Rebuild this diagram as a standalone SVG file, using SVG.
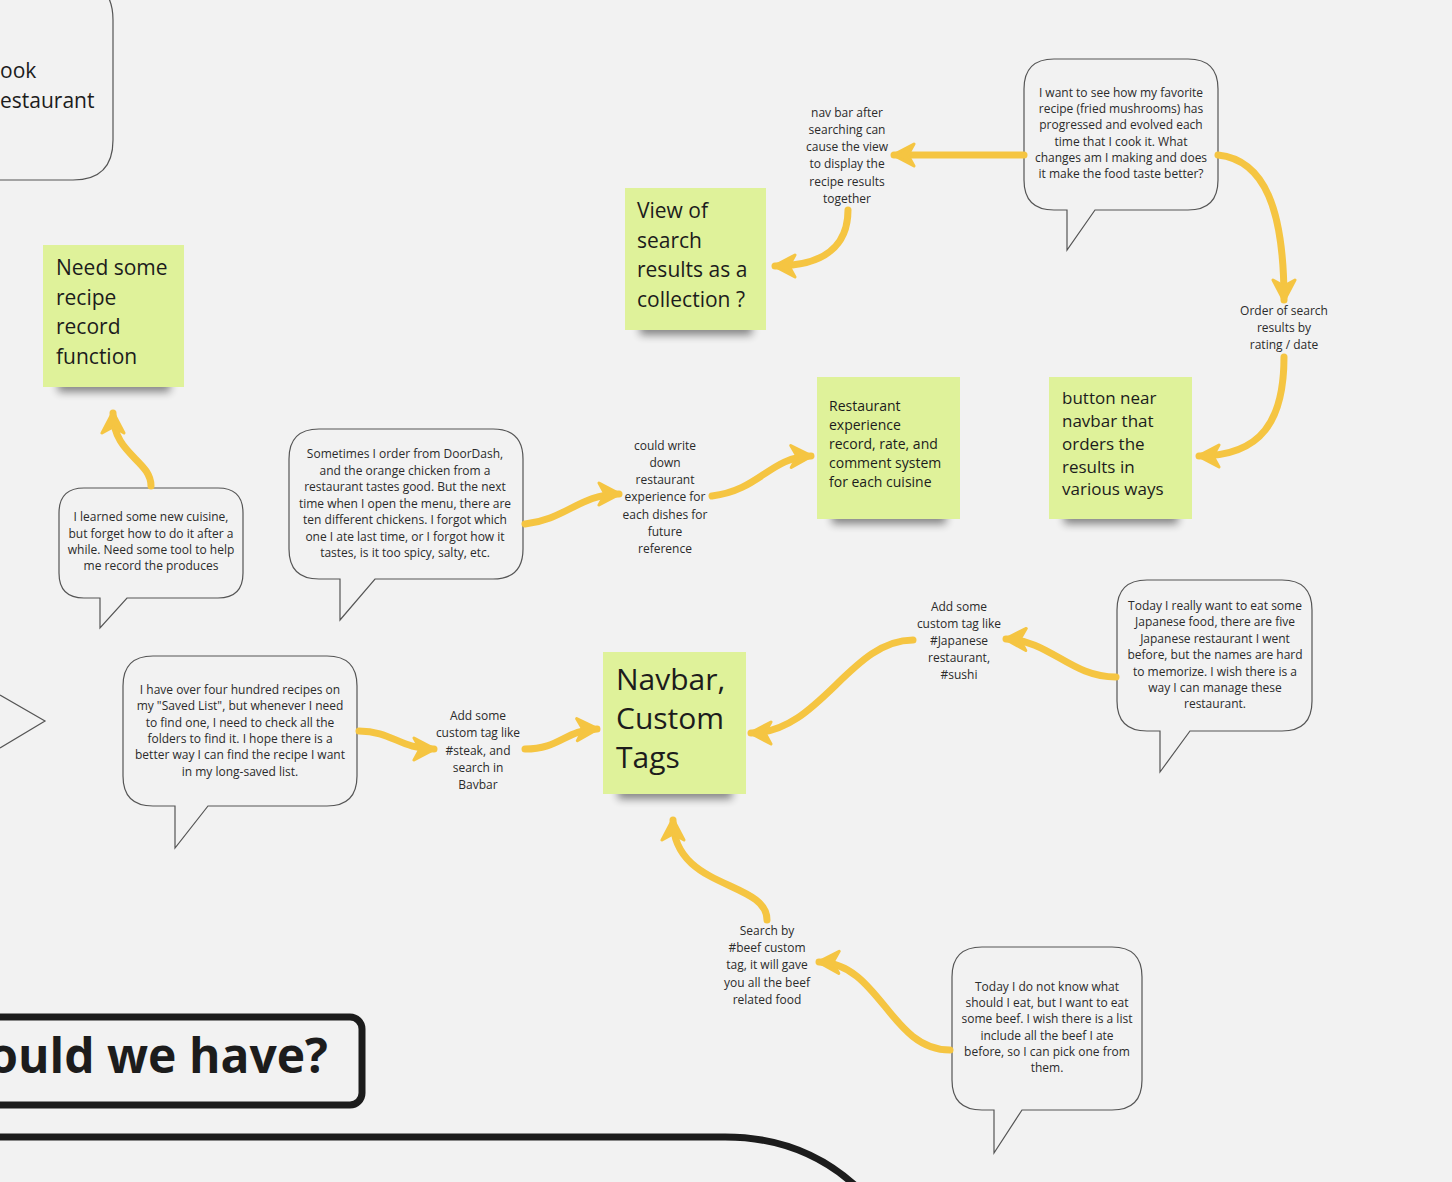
<svg xmlns="http://www.w3.org/2000/svg" width="1452" height="1182" viewBox="0 0 1452 1182">
<style>
.bubble{fill:#f2f2f2;stroke:#555;stroke-width:1.2}
.bt{font-family:"Open Sans","Liberation Sans",sans-serif;font-size:12px;fill:#2b2b2b;text-anchor:middle}
.lbl{font-family:"Open Sans","Liberation Sans",sans-serif;font-size:12px;fill:#2b2b2b;text-anchor:middle}
.sticky{fill:#dff29a}
.st{font-family:"Open Sans","Liberation Sans",sans-serif;fill:#1c1c1c}
.arr{fill:none;stroke:#f5c542;stroke-width:7;stroke-linecap:round;marker-end:url(#ah)}
.shadow{fill:#000;opacity:0.45;filter:url(#blur)}
</style>
<defs>
<marker id="ah" markerUnits="userSpaceOnUse" viewBox="0 0 26 26" markerWidth="26" markerHeight="26" refX="23" refY="13" orient="auto">
<path d="M24 13 L3 2 L9 13 L3 24 Z" fill="#f5c542" stroke="#f5c542" stroke-width="3" stroke-linejoin="round"/>
</marker>
<filter id="blur" x="-20%" y="-100%" width="140%" height="300%"><feGaussianBlur stdDeviation="4"/></filter>
</defs>
<rect width="1452" height="1182" fill="#f2f2f2"/>

<g id="partial-bubble-topleft">
<path d="M-10 -20 H73 Q113 -20 113 20 V140 Q113 180 73 180 H-10" fill="none" stroke="#555" stroke-width="1.2"/>
<text class="st" x="0" y="78" font-size="21">ook</text>
<text class="st" x="0" y="108" font-size="21">estaurant</text>
</g>
<g id="partial-shape-left">
<polyline points="0,695 45,721 0,748" fill="none" stroke="#555" stroke-width="1.2"/>
</g>

<g id="sticky-recipe-record">
<rect class="shadow" x="58" y="378" width="112" height="14"/>
<rect class="sticky" x="43" y="245" width="141" height="142"/>
<text class="st" font-size="21"><tspan x="56" y="275">Need some</tspan><tspan x="56" y="305">recipe</tspan><tspan x="56" y="334">record</tspan><tspan x="56" y="364">function</tspan></text>
</g>

<g id="sticky-collection">
<rect class="shadow" x="640" y="321" width="112" height="14"/>
<rect class="sticky" x="625" y="188" width="141" height="142"/>
<text class="st" font-size="21"><tspan x="637" y="218">View of</tspan><tspan x="637" y="248">search</tspan><tspan x="637" y="277">results as a</tspan><tspan x="637" y="307">collection ?</tspan></text>
</g>

<g id="sticky-restaurant">
<rect class="shadow" x="832" y="510" width="114" height="14"/>
<rect class="sticky" x="817" y="377" width="143" height="142"/>
<text class="st" font-size="14"><tspan x="829" y="411">Restaurant</tspan><tspan x="829" y="430">experience</tspan><tspan x="829" y="449">record, rate, and</tspan><tspan x="829" y="468">comment system</tspan><tspan x="829" y="487">for each cuisine</tspan></text>
</g>

<g id="sticky-button-navbar">
<rect class="shadow" x="1064" y="510" width="114" height="14"/>
<rect class="sticky" x="1049" y="377" width="143" height="142"/>
<text class="st" font-size="17"><tspan x="1062" y="404">button near</tspan><tspan x="1062" y="427">navbar that</tspan><tspan x="1062" y="450">orders the</tspan><tspan x="1062" y="473">results in</tspan><tspan x="1062" y="495">various ways</tspan></text>
</g>

<g id="sticky-navbar-tags">
<rect class="shadow" x="618" y="785" width="114" height="14"/>
<rect class="sticky" x="603" y="652" width="143" height="142"/>
<text class="st" font-size="30"><tspan x="616" y="690">Navbar,</tspan><tspan x="616" y="729">Custom</tspan><tspan x="616" y="768">Tags</tspan></text>
</g>

<g id="bubble-mushrooms">
<path class="bubble" d="M1054 59 H1188 Q1218 59 1218 89 V180 Q1218 210 1188 210 H1095 L1067 250 L1067 210 H1054 Q1024 210 1024 180 V89 Q1024 59 1054 59 Z"/>
<text class="bt"><tspan x="1121" y="97">I want to see how my favorite</tspan><tspan x="1121" y="113">recipe (fried mushrooms) has</tspan><tspan x="1121" y="129">progressed and evolved each</tspan><tspan x="1121" y="146">time that I cook it. What</tspan><tspan x="1121" y="162">changes am I making and does</tspan><tspan x="1121" y="178">it make the food taste better?</tspan></text>
</g>

<g id="bubble-doordash">
<path class="bubble" d="M319 429 H493 Q523 429 523 459 V549 Q523 579 493 579 H375 L340 620 L340 579 H319 Q289 579 289 549 V459 Q289 429 319 429 Z"/>
<text class="bt"><tspan x="405" y="458">Sometimes I order from DoorDash,</tspan><tspan x="405" y="475">and the orange chicken from a</tspan><tspan x="405" y="491">restaurant tastes good. But the next</tspan><tspan x="405" y="508">time when I open the menu, there are</tspan><tspan x="405" y="524">ten different chickens. I forgot which</tspan><tspan x="405" y="541">one I ate last time, or I forgot how it</tspan><tspan x="405" y="557">tastes, is it too spicy, salty, etc.</tspan></text>
</g>

<g id="bubble-cuisine">
<path class="bubble" d="M84 488 H218 Q243 488 243 513 V573 Q243 598 218 598 H127 L100 628 L100 598 H84 Q59 598 59 573 V513 Q59 488 84 488 Z"/>
<text class="bt"><tspan x="151" y="521">I learned some new cuisine,</tspan><tspan x="151" y="538">but forget how to do it after a</tspan><tspan x="151" y="554">while. Need some tool to help</tspan><tspan x="151" y="570">me record the produces</tspan></text>
</g>

<g id="bubble-saved-list">
<path class="bubble" d="M153 656 H327 Q357 656 357 686 V776 Q357 806 327 806 H208 L175 848 L175 806 H153 Q123 806 123 776 V686 Q123 656 153 656 Z"/>
<text class="bt"><tspan x="240" y="694">I have over four hundred recipes on</tspan><tspan x="240" y="710">my "Saved List", but whenever I need</tspan><tspan x="240" y="727">to find one, I need to check all the</tspan><tspan x="240" y="743">folders to find it. I hope there is a</tspan><tspan x="240" y="759">better way I can find the recipe I want</tspan><tspan x="240" y="776">in my long-saved list.</tspan></text>
</g>

<g id="bubble-japanese">
<path class="bubble" d="M1147 580 H1282 Q1312 580 1312 610 V701 Q1312 731 1282 731 H1190 L1160 772 L1160 731 H1147 Q1117 731 1117 701 V610 Q1117 580 1147 580 Z"/>
<text class="bt"><tspan x="1215" y="610">Today I really want to eat some</tspan><tspan x="1215" y="626">Japanese food, there are five</tspan><tspan x="1215" y="643">Japanese restaurant I went</tspan><tspan x="1215" y="659">before, but the names are hard</tspan><tspan x="1215" y="676">to memorize. I wish there is a</tspan><tspan x="1215" y="692">way I can manage these</tspan><tspan x="1215" y="708">restaurant.</tspan></text>
</g>

<g id="bubble-beef">
<path class="bubble" d="M982 947 H1112 Q1142 947 1142 977 V1080 Q1142 1110 1112 1110 H1022 L994 1153 L994 1110 H982 Q952 1110 952 1080 V977 Q952 947 982 947 Z"/>
<text class="bt"><tspan x="1047" y="991">Today I do not know what</tspan><tspan x="1047" y="1007">should I eat, but I want to eat</tspan><tspan x="1047" y="1023">some beef. I wish there is a list</tspan><tspan x="1047" y="1040">include all the beef I ate</tspan><tspan x="1047" y="1056">before, so I can pick one from</tspan><tspan x="1047" y="1072">them.</tspan></text>
</g>

<g id="label-navbar-view">
<text class="lbl"><tspan x="847" y="117">nav bar after</tspan><tspan x="847" y="134">searching can</tspan><tspan x="847" y="151">cause the view</tspan><tspan x="847" y="168">to display the</tspan><tspan x="847" y="186">recipe results</tspan><tspan x="847" y="203">together</tspan></text>
</g>
<g id="label-order">
<text class="lbl"><tspan x="1284" y="315">Order of search</tspan><tspan x="1284" y="332">results by</tspan><tspan x="1284" y="349">rating / date</tspan></text>
</g>
<g id="label-write-down">
<text class="lbl"><tspan x="665" y="450">could write</tspan><tspan x="665" y="467">down</tspan><tspan x="665" y="484">restaurant</tspan><tspan x="665" y="501">experience for</tspan><tspan x="665" y="519">each dishes for</tspan><tspan x="665" y="536">future</tspan><tspan x="665" y="553">reference</tspan></text>
</g>
<g id="label-japanese-tag">
<text class="lbl"><tspan x="959" y="611">Add some</tspan><tspan x="959" y="628">custom tag like</tspan><tspan x="959" y="645">#Japanese</tspan><tspan x="959" y="662">restaurant,</tspan><tspan x="959" y="679">#sushi</tspan></text>
</g>
<g id="label-steak-tag">
<text class="lbl"><tspan x="478" y="720">Add some</tspan><tspan x="478" y="737">custom tag like</tspan><tspan x="478" y="755">#steak, and</tspan><tspan x="478" y="772">search in</tspan><tspan x="478" y="789">Bavbar</tspan></text>
</g>
<g id="label-beef-tag">
<text class="lbl"><tspan x="767" y="935">Search by</tspan><tspan x="767" y="952">#beef custom</tspan><tspan x="767" y="969">tag, it will gave</tspan><tspan x="767" y="987">you all the beef</tspan><tspan x="767" y="1004">related food</tspan></text>
</g>

<g id="title-box">
<rect x="-30" y="1017" width="392" height="88" rx="12" fill="none" stroke="#1c1c1c" stroke-width="7"/>
<text x="328" y="1073" text-anchor="end" font-family="'Open Sans','Liberation Sans',sans-serif" font-weight="bold" font-size="48" fill="#1c1c1c">ould we have?</text>
</g>
<g id="bottom-frame">
<path d="M-10 1137 H725 Q805 1137 860 1190" fill="none" stroke="#1c1c1c" stroke-width="7"/>
</g>

<g id="connectors">
<path class="arr" d="M1024 155 H894"/>
<path class="arr" d="M848 210 C848 245 825 266 775 266"/>
<path class="arr" d="M1218 155 C1265 160 1284 210 1284 300"/>
<path class="arr" d="M1284 357 C1284 420 1262 456 1199 456"/>
<path class="arr" d="M151 486 C151 460 113 455 113 413"/>
<path class="arr" d="M525 524 C565 520 580 494 619 494"/>
<path class="arr" d="M712 496 C760 490 770 457 811 456"/>
<path class="arr" d="M1116 677 C1070 677 1050 640 1006 639"/>
<path class="arr" d="M913 640 C850 640 820 733 751 733"/>
<path class="arr" d="M359 731 C392 731 400 749 434 749"/>
<path class="arr" d="M525 749 C560 749 565 730 597 729"/>
<path class="arr" d="M767 920 C767 880 673 890 673 820"/>
<path class="arr" d="M950 1050 C890 1050 880 963 819 962"/>
</g>
</svg>
